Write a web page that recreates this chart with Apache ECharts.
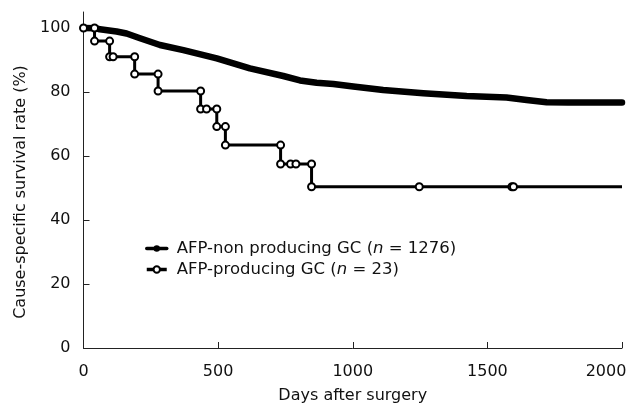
<!DOCTYPE html>
<html>
<head>
<meta charset="utf-8">
<script src="https://cdn.jsdelivr.net/npm/echarts@6/dist/echarts.min.js"></script>
<style>html,body{margin:0;padding:0;background:#fff}#c{width:630px;height:403px}</style>
</head>
<body>
<div id="c"></div>
<script>
// AFP-non producing GC (n = 1276)
const nonProdDays  = [0, 49, 61, 123, 160, 210, 284, 371, 495, 618, 742, 804, 866, 928, 1002, 1113, 1262, 1423, 1571, 1646, 1720, 1800, 1900, 2000];
const nonProdRates = [100, 99.9, 99.6, 98.9, 98.3, 96.8, 94.7, 93.1, 90.5, 87.4, 85.0, 83.6, 82.9, 82.5, 81.7, 80.6, 79.6, 78.75, 78.3, 77.5, 76.8, 76.7, 76.7, 76.7];
// AFP-producing GC (n = 23), Kaplan-Meier vertices
const prodDays  = [0, 41, 41, 97, 97, 110, 190, 190, 277, 277, 435, 435, 457, 495, 495, 527, 527, 732, 732, 769, 789, 847, 847, 1247, 1591, 1597, 2000];
const prodRates = [100, 100, 95.9, 95.9, 91.0, 91.0, 91.0, 85.6, 85.6, 80.3, 80.3, 74.7, 74.7, 74.7, 69.2, 69.2, 63.4, 63.4, 57.5, 57.5, 57.5, 57.5, 50.4, 50.4, 50.4, 50.4, 50.4];
const xTicks = [0, 500, 1000, 1500, 2000];
const yTicks = [0, 20, 40, 60, 80, 100];
const seriesNames = ['AFP-non producing GC', 'AFP-producing GC'];
const seriesN = [1276, 23];

const font = 'DejaVu Sans';
const txt = '#111';
const chart = echarts.init(document.getElementById('c'), null, {renderer: 'canvas'});

const nonData = nonProdDays.map((d, i) => [d, nonProdRates[i]]);
const prodData = prodDays.map((d, i) => {
  const o = {value: [d, prodRates[i]]};
  if (i === prodDays.length - 1) o.symbol = 'none';
  return o;
});
const xMax = xTicks[xTicks.length - 1];

chart.setOption({
  animation: false,
  backgroundColor: '#fff',
  grid: {left: 83.5, right: 8, top: 12, bottom: 55, containLabel: false, outerBoundsMode: 'none'},
  xAxis: {
    type: 'value', min: 0, max: xMax, interval: 500,
    name: 'Days after surgery', nameLocation: 'middle', nameGap: 40,
    nameTextStyle: {fontFamily: font, fontSize: 16, color: txt},
    axisLine: {show: true, lineStyle: {color: '#222', width: 1}},
    axisTick: {show: true, inside: true, length: 6, lineStyle: {color: '#222'}, customValues: xTicks},
    axisLabel: {fontFamily: font, fontSize: 16, color: txt, margin: 16, customValues: xTicks,
      formatter: v => v === xMax ? '{m|' + v + '}' : String(v),
      rich: {m: {fontFamily: font, fontSize: 16, color: txt, padding: [0, 32, 0, 0]}}},
    splitLine: {show: false}
  },
  yAxis: {
    type: 'value', min: 0, max: 105, interval: 20,
    name: 'Cause-specific survival rate (%)', nameLocation: 'middle', nameGap: 49,
    nameTextStyle: {fontFamily: font, fontSize: 16, color: txt, padding: [0, 24, 0, 0]},
    axisLine: {show: true, lineStyle: {color: '#222', width: 1}},
    axisTick: {show: true, inside: true, length: 6, lineStyle: {color: '#222'}, customValues: yTicks},
    axisLabel: {fontFamily: font, fontSize: 16, color: txt, margin: 13, customValues: yTicks,
      formatter: v => String(v)},
    splitLine: {show: false}
  },
  legend: {
    orient: 'vertical', left: 145, top: 238, padding: 0,
    itemWidth: 20, itemHeight: 8, itemGap: 0,
    textStyle: {fontFamily: font, fontSize: 16.5, color: txt, lineHeight: 21, padding: [0, 0, 0, 5],
      rich: {a: {fontFamily: font, fontSize: 16.5, color: txt}, i: {fontFamily: font, fontSize: 16.5, color: txt, fontStyle: 'italic'}}},
    formatter: function (name) {
      const k = seriesNames.indexOf(name);
      return '{a|' + name + ' (}{i|n}{a| = ' + seriesN[k] + ')}';
    },
    data: [seriesNames[0], seriesNames[1]],
    lineStyle: {width: 3.5}
  },
  series: [
    {
      name: seriesNames[0], type: 'line', data: nonData,
      symbol: 'circle', symbolSize: 7, showSymbol: false,
      lineStyle: {color: '#000', width: 6.5, cap: 'round', join: 'round'},
      itemStyle: {color: '#000'}
    },
    {
      name: seriesNames[1], type: 'line', data: prodData,
      symbol: 'emptyCircle', symbolSize: 7, showSymbol: true,
      lineStyle: {color: '#000', width: 3},
      itemStyle: {color: '#000', borderColor: '#000', borderWidth: 1.6},
      z: 3
    }
  ]
});
</script>
</body>
</html>
